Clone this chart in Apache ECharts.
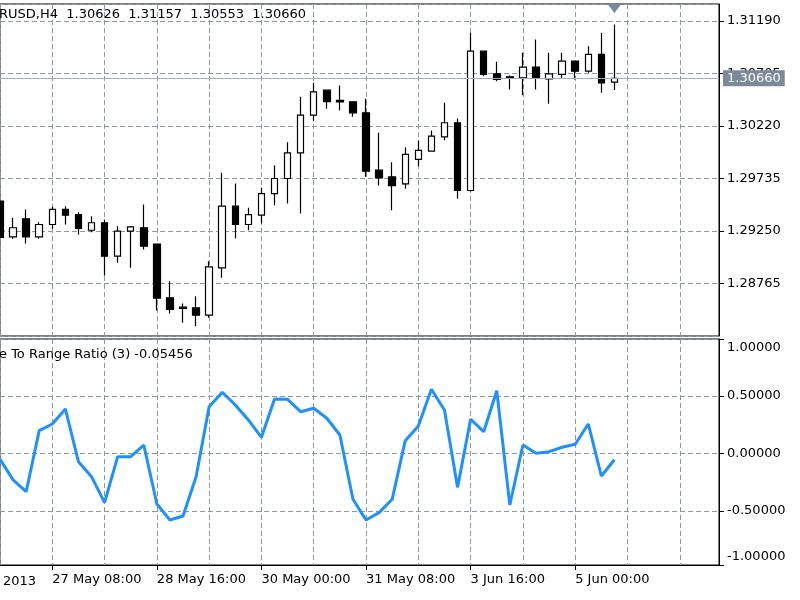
<!DOCTYPE html>
<html>
<head>
<meta charset="utf-8">
<script src="https://cdn.jsdelivr.net/npm/echarts@6/dist/echarts.min.js"></script>
<style>
html,body{margin:0;padding:0;background:#fff;}
#chart{width:800px;height:600px;}
</style>
</head>
<body>
<div id="chart"></div>
<script>
// H4 bar times (48 bars + empty right shift area)
const categories = [
  '24 May 16:00','24 May 20:00','27 May 00:00','27 May 04:00','27 May 08:00','27 May 12:00','27 May 16:00','27 May 20:00',
  '28 May 00:00','28 May 04:00','28 May 08:00','28 May 12:00','28 May 16:00','28 May 20:00','29 May 00:00','29 May 04:00',
  '29 May 08:00','29 May 12:00','29 May 16:00','29 May 20:00','30 May 00:00','30 May 04:00','30 May 08:00','30 May 12:00',
  '30 May 16:00','30 May 20:00','31 May 00:00','31 May 04:00','31 May 08:00','31 May 12:00','31 May 16:00','31 May 20:00',
  '3 Jun 00:00','3 Jun 04:00','3 Jun 08:00','3 Jun 12:00','3 Jun 16:00','3 Jun 20:00','4 Jun 00:00','4 Jun 04:00',
  '4 Jun 08:00','4 Jun 12:00','4 Jun 16:00','4 Jun 20:00','5 Jun 00:00','5 Jun 04:00','5 Jun 08:00','5 Jun 12:00',
  '5 Jun 16:00','5 Jun 20:00','6 Jun 00:00','6 Jun 04:00','6 Jun 08:00','6 Jun 12:00','6 Jun 16:00','6 Jun 20:00'
];
const timeLabels = ['27 May 08:00','28 May 16:00','30 May 00:00','31 May 08:00','3 Jun 16:00','5 Jun 00:00'];

const opens = [1.29527,1.29196,1.29363,1.29196,1.29310,1.29449,1.29402,1.29257,1.29326,1.29017,1.29248,1.29280,
  1.29130,1.28633,1.28546,1.28541,1.28472,1.28910,1.29479,1.29310,1.29396,1.29596,1.29735,1.29972,
  1.30320,1.30551,1.30456,1.30444,1.30342,1.29812,1.29751,1.29686,1.29911,1.29987,1.30120,1.30250,
  1.29624,1.30911,1.30702,1.30675,1.30665,1.30763,1.30656,1.30696,1.30819,1.30726,1.30881,1.30626];
const highs = [1.29587,1.29372,1.29449,1.29331,1.29474,1.29479,1.29424,1.29387,1.29356,1.29294,1.29296,1.29495,
  1.29135,1.28786,1.28580,1.28648,1.28971,1.29788,1.29689,1.29464,1.29649,1.29855,1.30070,1.30490,
  1.30619,1.30553,1.30594,1.30446,1.30471,1.30157,1.29886,1.30024,1.30086,1.30178,1.30434,1.30289,
  1.31081,1.30913,1.30813,1.30687,1.30896,1.31019,1.30896,1.30896,1.30821,1.30957,1.31081,1.31157];
const lows = [1.29098,1.29178,1.29135,1.29178,1.29270,1.29310,1.29218,1.29239,1.28839,1.28956,1.28910,1.29079,
  1.28516,1.28488,1.28402,1.28371,1.28448,1.28818,1.29181,1.29257,1.29319,1.29488,1.29504,1.29412,
  1.30264,1.30379,1.30363,1.30305,1.29751,1.29670,1.29442,1.29640,1.29849,1.29984,1.30089,1.29548,
  1.29615,1.30680,1.30634,1.30557,1.30505,1.30557,1.30425,1.30665,1.30650,1.30712,1.30527,1.30553];
const closes = [1.29190,1.29280,1.29196,1.29310,1.29449,1.29396,1.29273,1.29326,1.29017,1.29248,1.29289,1.29110,
  1.28629,1.28525,1.28534,1.28472,1.28919,1.29479,1.29310,1.29402,1.29596,1.29735,1.29972,1.30320,
  1.30536,1.30444,1.30442,1.30342,1.29802,1.29741,1.29670,1.29957,1.29994,1.30126,1.30250,1.29624,
  1.30911,1.30696,1.30650,1.30665,1.30763,1.30659,1.30702,1.30819,1.30726,1.30881,1.30619,1.30660];

const ratio = [-0.05,-0.23,-0.333,0.199,0.257,0.388,-0.071,-0.202,-0.428,-0.028,-0.028,0.074,
  -0.44,-0.579,-0.544,-0.202,0.408,0.533,0.422,0.292,0.141,0.475,0.472,0.364,
  0.394,0.307,0.161,-0.399,-0.579,-0.515,-0.399,0.112,0.24,0.559,0.379,-0.295,
  0.298,0.19,0.547,-0.449,0.074,0.002,0.016,0.054,0.08,0.257,-0.196,-0.05456];

const priceTitle = 'RUSD,H4  1.30626  1.31157  1.30553  1.30660';
const indTitle = 'e To Range Ratio (3) -0.05456';
const firstDateLabel = '2013';

const candleData = opens.map((o, i) => [o, closes[i], lows[i], highs[i]]);
const lastClose = closes[closes.length - 1];
const lastIndex = closes.length - 1;
const priceMax = 1.31347;

const FONT = 'DejaVu Sans';
const gridLine = {show: true, lineStyle: {color: '#8e98a4', type: [5, 3], width: 1}};
const gridLineX = {show: true, interval: (i) => i % 4 === 0, lineStyle: {color: '#8e98a4', type: [5, 3], width: 1}};
const labelIdx = (i) => timeLabels.indexOf(categories[i]) >= 0;

const chart = echarts.init(document.getElementById('chart'));
chart.setOption({
  animation: false,
  backgroundColor: '#fff',
  textStyle: {fontFamily: FONT},
  grid: [
    {left: 0, right: 81, top: 4, height: 332, show: true, borderColor: '#000', borderWidth: 1},
    {left: 0, right: 81, top: 339, height: 226, show: true, borderColor: '#000', borderWidth: 1}
  ],
  xAxis: [
    {type: 'category', gridIndex: 0, data: categories, boundaryGap: false,
     axisLine: {show: false, onZero: false}, axisTick: {show: false}, axisLabel: {show: false}, splitLine: gridLineX},
    {type: 'category', gridIndex: 1, data: categories, boundaryGap: false,
     axisLine: {show: true, onZero: false, lineStyle: {color: '#000'}},
     axisTick: {show: true, interval: labelIdx, length: 5, lineStyle: {color: '#000'}},
     axisLabel: {interval: labelIdx, align: 'left', margin: 8, color: '#000', fontSize: 13, fontFamily: FONT},
     splitLine: gridLineX}
  ],
  yAxis: [
    {type: 'value', gridIndex: 0, position: 'right', min: 1.28280, max: priceMax, interval: 0.00485,
     axisLine: {show: true, lineStyle: {color: '#000'}},
     axisTick: {show: true, length: 5, lineStyle: {color: '#000'}},
     axisLabel: {formatter: (v) => v.toFixed(5), showMinLabel: false, showMaxLabel: false,
                 margin: 8, color: '#000', fontSize: 13, fontFamily: FONT},
     splitLine: gridLine},
    {type: 'value', gridIndex: 1, position: 'right', min: -0.971, max: 0.997, splitNumber: 4,
     axisLine: {show: true, lineStyle: {color: '#000'}},
     axisTick: {show: true, length: 5, lineStyle: {color: '#000'}},
     axisLabel: {
       margin: 8, color: '#000', fontSize: 13, fontFamily: FONT,
       formatter: (v) => v > 0.9 ? '{top|1.00000}' : (v < -0.9 ? '{bot|-1.00000}' : v.toFixed(5)),
       rich: {
         top: {padding: [18, 0, 0, 0], color: '#000', fontSize: 13, fontFamily: FONT},
         bot: {padding: [0, 0, 16, 0], color: '#000', fontSize: 13, fontFamily: FONT}
       }
     },
     splitLine: gridLine}
  ],
  series: [
    {type: 'candlestick', xAxisIndex: 0, yAxisIndex: 0, data: candleData, barWidth: 7, z: 3,
     itemStyle: {color: '#fff', color0: '#000', borderColor: '#000', borderColor0: '#000', borderWidth: 1.2}},
    // helper series carrying the current-price line and the chart-shift marker
    {type: 'line', xAxisIndex: 0, yAxisIndex: 0, data: closes, showSymbol: false, silent: true, z: 2,
     lineStyle: {opacity: 0}, itemStyle: {opacity: 0},
     markLine: {symbol: 'none', silent: true, animation: false,
       data: [[{coord: [0, lastClose]}, {coord: [categories.length - 1, lastClose]}]],
       lineStyle: {color: '#a3acb6', type: 'solid', width: 1},
       label: {position: 'end', distance: 4, formatter: () => lastClose.toFixed(5),
               backgroundColor: '#7b8a9a', color: '#fff', padding: [2, 4, 1, 4],
               fontSize: 13, fontFamily: FONT}},
     markPoint: {silent: true, animation: false,
       data: [{coord: [lastIndex, priceMax], symbol: 'triangle', symbolRotate: 180, symbolSize: [14, 9],
               symbolOffset: [0, 4.5], itemStyle: {color: '#7b8a9a', opacity: 1}, label: {show: false}}]}
    },
    {type: 'line', xAxisIndex: 1, yAxisIndex: 1, data: ratio, showSymbol: false,
     lineStyle: {color: '#1e90ff', width: 3}, itemStyle: {color: '#1e90ff'}}
  ],
  graphic: [
    {type: 'text', x: -1, y: 15, z: 100, style: {text: priceTitle, fill: '#000', fontSize: 13, fontFamily: FONT, verticalAlign: 'middle'}},
    {type: 'text', x: -1, y: 355, z: 100, style: {text: indTitle, fill: '#000', fontSize: 13, fontFamily: FONT, verticalAlign: 'middle'}},
    {type: 'text', x: 3, y: 582, z: 100, style: {text: firstDateLabel, fill: '#000', fontSize: 13, fontFamily: FONT, verticalAlign: 'middle'}}
  ]
});
</script>
</body>
</html>
